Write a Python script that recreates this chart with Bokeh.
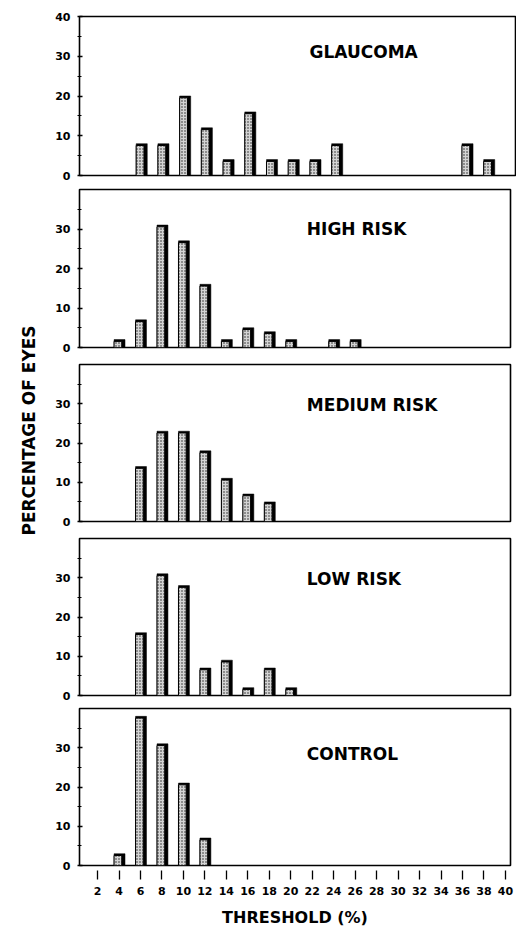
from bokeh.plotting import figure
from bokeh.layouts import row, column
from bokeh.models import FixedTicker, Range1d, ColumnDataSource
from bokeh.core.properties import value
from bokeh.embed import file_html
from bokeh.resources import INLINE

# ---- data ----
groups = ["GLAUCOMA", "HIGH RISK", "MEDIUM RISK", "LOW RISK", "CONTROL"]
glaucoma_x = [6, 8, 10, 12, 14, 16, 18, 20, 22, 24, 36, 38]
glaucoma_y = [8, 8, 20, 12, 4, 16, 4, 4, 4, 8, 8, 4]
high_x = [4, 6, 8, 10, 12, 14, 16, 18, 20, 24, 26]
high_y = [2, 7, 31, 27, 16, 2, 5, 4, 2, 2, 2]
medium_x = [6, 8, 10, 12, 14, 16, 18]
medium_y = [14, 23, 23, 18, 11, 7, 5]
low_x = [6, 8, 10, 12, 14, 16, 18, 20]
low_y = [16, 31, 28, 7, 9, 2, 7, 2]
control_x = [4, 6, 8, 10, 12]
control_y = [3, 38, 31, 21, 7]
x_ticks = list(range(2, 41, 2))
y_ticks_top = [0, 10, 20, 30, 40]
y_ticks = [0, 10, 20, 30]
y_minor = [5, 15, 25, 35]
title_y = [31, 30, 29.7, 29.7, 28.5]

series = [(glaucoma_x, glaucoma_y), (high_x, high_y), (medium_x, medium_y),
          (low_x, low_y), (control_x, control_y)]

FONT = "DejaVu Sans"
X0, X1 = 0.32, 40.47

# layout: (border_left, frame_width, border_top, frame_height, border_bottom)
layout = [(28, 436, 16, 159, 7),
          (31, 431, 7, 158, 8),
          (31, 431, 9, 157, 8),
          (31, 431, 9, 157, 6),
          (31, 431, 7, 157, 63)]

panels = []
for i, (name, (xs, ys)) in enumerate(zip(groups, series)):
    bl, fw, bt, fh, bb = layout[i]
    last = (i == len(groups) - 1)
    p = figure(frame_width=fw, frame_height=fh, min_border_left=bl,
               min_border_right=468 - bl - fw, min_border_top=bt,
               min_border_bottom=bb, x_range=Range1d(X0, X1),
               y_range=Range1d(0, 40), output_backend="svg",
               toolbar_location=None, tools="",
               x_axis_location="below" if last else None)
    p.outline_line_color = "black"
    p.outline_line_width = 1.6
    p.grid.visible = False
    p.background_fill_color = "white"
    p.border_fill_color = "white"

    ya = p.yaxis[0]
    ya.ticker = FixedTicker(ticks=y_ticks_top if i == 0 else y_ticks, minor_ticks=y_minor)
    ya.axis_line_color = None
    ya.major_tick_in = 3
    ya.major_tick_out = 2
    ya.minor_tick_in = 2
    ya.minor_tick_out = 2
    ya.major_tick_line_width = 1.3
    ya.major_label_standoff = 7
    ya.major_label_text_font = FONT
    ya.major_label_text_font_style = "bold"
    ya.major_label_text_font_size = "11px"
    ya.major_label_text_color = "black"

    if last:
        xa = p.xaxis[0]
        xa.ticker = FixedTicker(ticks=x_ticks)
        xa.axis_line_color = None
        xa.major_tick_in = -5
        xa.major_tick_out = 14
        xa.major_tick_line_width = 1.3
        xa.minor_tick_line_color = None
        xa.major_label_standoff = 7
        xa.major_label_text_font = FONT
        xa.major_label_text_font_style = "bold"
        xa.major_label_text_font_size = "11px"
        xa.major_label_text_color = "black"
        xa.axis_label = "THRESHOLD (%)"
        xa.axis_label_standoff = 10
        xa.axis_label_text_font = FONT
        xa.axis_label_text_font_style = "bold"
        xa.axis_label_text_font_size = "16px"
        xa.axis_label_text_color = "black"

    src = ColumnDataSource(dict(
        x=xs, top=ys,
        xs=[v + 0.05 for v in xs],
        xf=[v - 0.1 for v in xs],
        topf=[t - 0.45 for t in ys]))
    # 3-D shadow of each bar
    p.vbar(x="xs", top="top", bottom=0, width=1.02, source=src,
           fill_color="black", line_color="black", line_width=0.5)
    # front face
    p.vbar(x="xf", top="topf", bottom=0, width=0.72, source=src,
           fill_color="#d4d4d4", line_color="black", line_width=1,
           hatch_pattern="dot", hatch_color="#222222", hatch_scale=3,
           hatch_weight=1)

    p.text(x=[21.5], y=[title_y[i]], text=[name], text_font=value(FONT),
           text_font_style="bold", text_font_size="17px",
           text_baseline="middle", text_align="left", text_color="black")
    panels.append(p)

total_h = sum(l[2] + l[3] + l[4] for l in layout)
lab = figure(width=48, height=total_h, x_range=Range1d(0, 48),
             y_range=Range1d(0, total_h), output_backend="svg",
             toolbar_location=None, tools="", min_border=0,
             x_axis_location=None, y_axis_location=None)
lab.outline_line_color = None
lab.grid.visible = False
lab.text(x=[28], y=[total_h - 430], text=["PERCENTAGE OF EYES"],
         text_font=value(FONT), text_font_style="bold", text_font_size="17px",
         text_align="center", text_baseline="middle", angle=1.5707963,
         text_color="black")

layout_all = row(lab, column(*panels))
open("out.html", "w").write(file_html(layout_all, INLINE))
